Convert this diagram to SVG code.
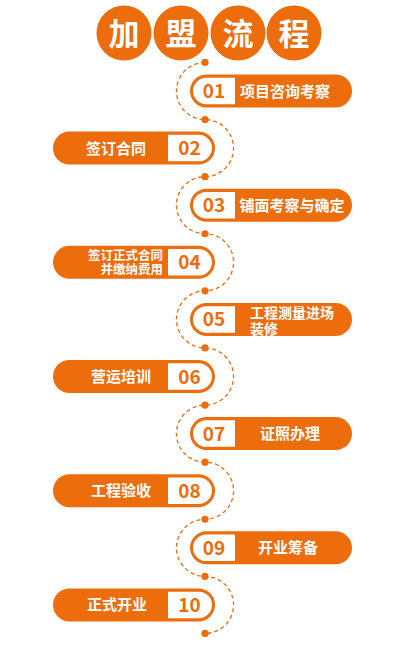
<svg xmlns="http://www.w3.org/2000/svg" width="406" height="653" viewBox="0 0 406 653">
<style>
.or{fill:#ED6C0C}
.wh{fill:#FFFFFF}
.ttl{font-family:"Noto Sans CJK SC","Noto Sans",sans-serif;font-weight:bold;font-size:31px;fill:#FFFFFF;text-anchor:middle}
.lab{font-family:"Noto Sans CJK SC","Noto Sans",sans-serif;font-weight:bold;font-size:15px;fill:#FFFFFF}
.lab2{font-family:"Noto Sans CJK SC","Noto Sans",sans-serif;font-weight:bold;font-size:12.5px;fill:#FFFFFF}
.lab3{font-family:"Noto Sans CJK SC","Noto Sans",sans-serif;font-weight:bold;font-size:14px;fill:#FFFFFF}
.num{font-family:"Noto Sans CJK SC","Noto Sans",sans-serif;font-weight:bold;font-size:19px;fill:#ED6C0C;text-anchor:middle}
.dash{fill:none;stroke:#ED6C0C;stroke-width:1.3;stroke-dasharray:4 3}
</style>
<defs>
<g id="rpill">
<rect x="190" y="-16.5" width="162" height="33" rx="16.5" class="or"/>
<path d="M206.25,-13.25 H235 V13.25 H206.25 A13.25,13.25 0 0 1 206.25,-13.25 Z" class="wh"/>
</g>
<g id="lpill">
<rect x="53" y="-16.5" width="162" height="33" rx="16.5" class="or"/>
<path d="M168,-13.25 H198.75 A13.25,13.25 0 0 1 198.75,13.25 H168 Z" class="wh"/>
</g>
</defs>
<rect width="406" height="653" fill="#FFFFFF"/>
<g id="title">
<circle cx="124" cy="33" r="27.5" class="or"/>
<circle cx="181" cy="33" r="27.5" class="or"/>
<circle cx="238" cy="33" r="27.5" class="or"/>
<circle cx="294" cy="33" r="27.5" class="or"/>
<text x="124" y="44.5" class="ttl">加</text>
<text x="181" y="44.5" class="ttl">盟</text>
<text x="238" y="44.5" class="ttl">流</text>
<text x="294" y="44.5" class="ttl">程</text>
</g>
<g id="connectors">
<path class="dash" d="M205,62.45 A28.55,28.55 0 0 0 205,119.55 A28.55,28.55 0 0 1 205,176.65 A28.55,28.55 0 0 0 205,233.75 A28.55,28.55 0 0 1 205,290.85 A28.55,28.55 0 0 0 205,347.95 A28.55,28.55 0 0 1 205,405.05 A28.55,28.55 0 0 0 205,462.15 A28.55,28.55 0 0 1 205,519.25 A28.55,28.55 0 0 0 205,576.35 A28.55,28.55 0 0 1 205,633.45"/>
<g class="or">
<circle cx="205" cy="62.45" r="3.6"/>
<circle cx="205" cy="119.55" r="3.6"/>
<circle cx="205" cy="176.65" r="3.6"/>
<circle cx="205" cy="233.75" r="3.6"/>
<circle cx="205" cy="290.85" r="3.6"/>
<circle cx="205" cy="347.95" r="3.6"/>
<circle cx="205" cy="405.05" r="3.6"/>
<circle cx="205" cy="462.15" r="3.6"/>
<circle cx="205" cy="519.25" r="3.6"/>
<circle cx="205" cy="576.35" r="3.6"/>
<circle cx="205" cy="633.45" r="3.6"/>
</g>
</g>
<g id="step01" transform="translate(0,91)">
<use href="#rpill"/>
<text x="214" y="7" class="num">01</text>
<text x="285" y="5.5" class="lab" text-anchor="middle">项目咨询考察</text>
</g>
<g id="step02" transform="translate(0,148.1)">
<use href="#lpill"/>
<text x="189.5" y="7" class="num">02</text>
<text x="116" y="5.5" class="lab" text-anchor="middle">签订合同</text>
</g>
<g id="step03" transform="translate(0,205.2)">
<use href="#rpill"/>
<text x="214" y="7" class="num">03</text>
<text x="292" y="5.5" class="lab" text-anchor="middle">铺面考察与确定</text>
</g>
<g id="step04" transform="translate(0,262.3)">
<use href="#lpill"/>
<text x="189.5" y="7" class="num">04</text>
<text class="lab2" text-anchor="end"><tspan x="163" y="-2.5">签订正式合同</tspan><tspan x="163" y="12">并缴纳费用</tspan></text>
</g>
<g id="step05" transform="translate(0,319.4)">
<use href="#rpill"/>
<text x="214" y="7" class="num">05</text>
<text class="lab3"><tspan x="250" y="-1.5">工程测量进场</tspan><tspan x="250" y="14.5">装修</tspan></text>
</g>
<g id="step06" transform="translate(0,376.5)">
<use href="#lpill"/>
<text x="189.5" y="7" class="num">06</text>
<text x="121" y="5.5" class="lab" text-anchor="middle">营运培训</text>
</g>
<g id="step07" transform="translate(0,433.6)">
<use href="#rpill"/>
<text x="214" y="7" class="num">07</text>
<text x="290" y="5.5" class="lab" text-anchor="middle">证照办理</text>
</g>
<g id="step08" transform="translate(0,490.7)">
<use href="#lpill"/>
<text x="189.5" y="7" class="num">08</text>
<text x="121" y="5.5" class="lab" text-anchor="middle">工程验收</text>
</g>
<g id="step09" transform="translate(0,547.8)">
<use href="#rpill"/>
<text x="214" y="7" class="num">09</text>
<text x="288" y="5.5" class="lab" text-anchor="middle">开业筹备</text>
</g>
<g id="step10" transform="translate(0,604.9)">
<use href="#lpill"/>
<text x="189.5" y="7" class="num">10</text>
<text x="117" y="5.5" class="lab" text-anchor="middle">正式开业</text>
</g>
</svg>
